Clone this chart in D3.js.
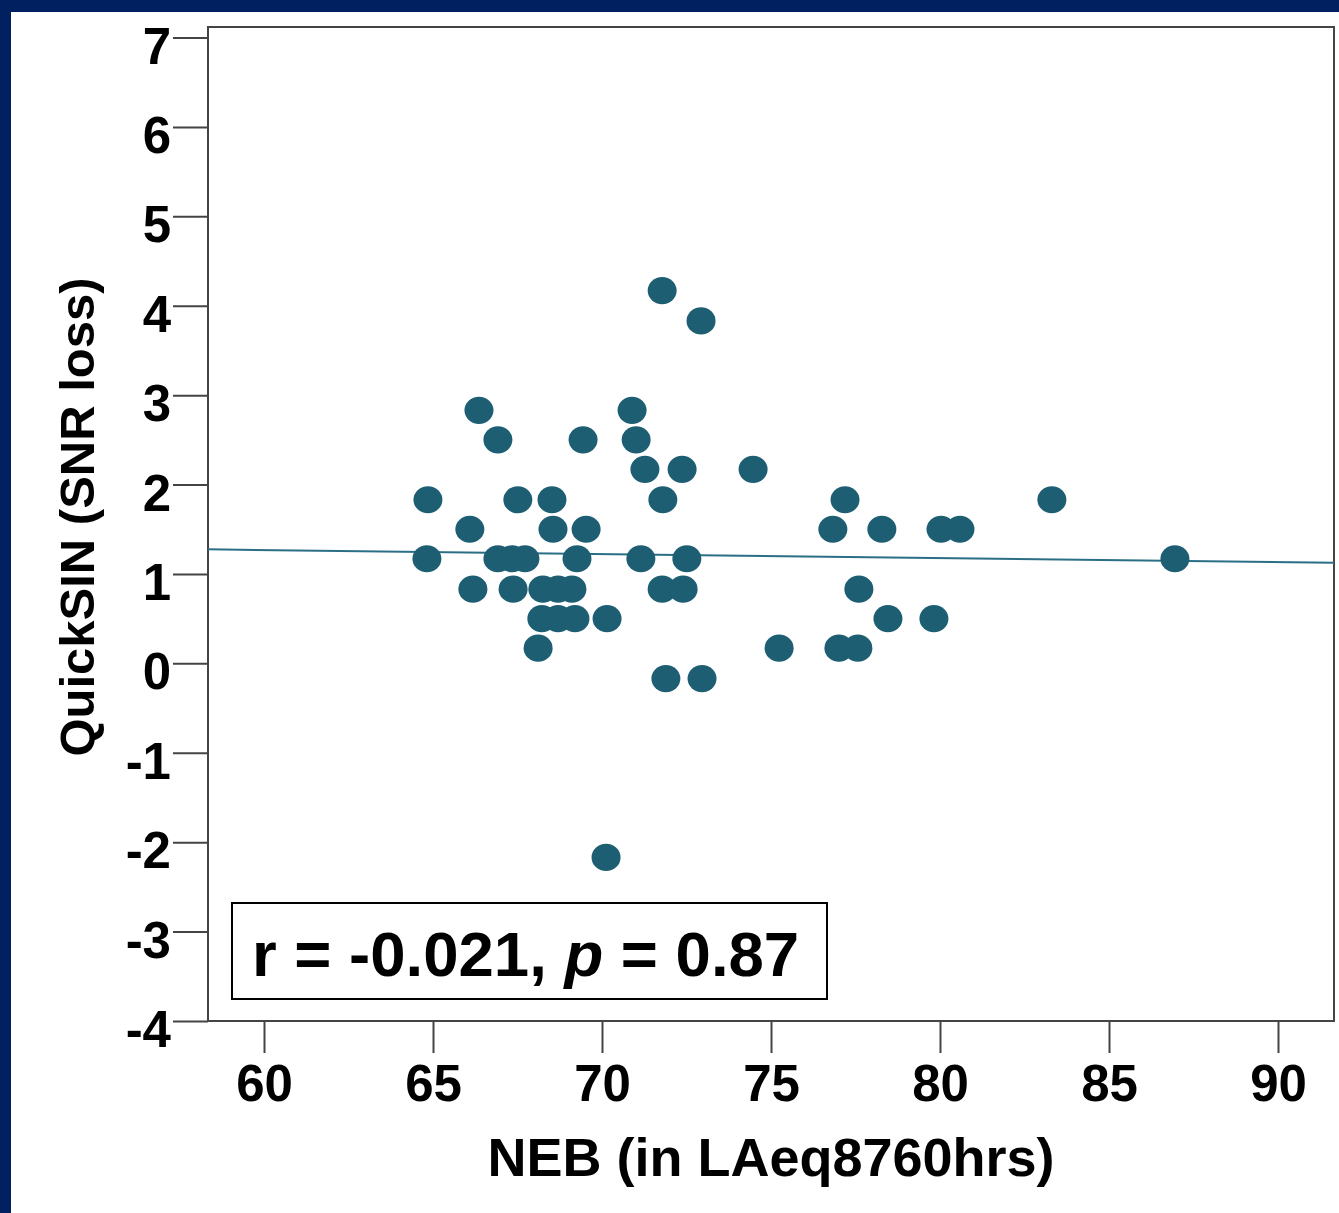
<!DOCTYPE html>
<html>
<head>
<meta charset="utf-8">
<script src="https://cdn.jsdelivr.net/npm/d3@7"></script>
<style>
  body { margin: 0; background: #fff; }
  svg { display: block; font-family: "Liberation Sans", Arial, sans-serif; }
</style>
</head>
<body>
<script>
// NEB (LAeq8760hrs) vs QuickSIN (SNR loss)
var nebValues = [
  71.78,
  72.93,
  66.36, 70.89,
  66.92, 69.44, 71.01,
  71.27, 72.37, 74.47,
  64.85, 67.51, 68.52, 71.80, 77.19, 83.31,
  66.09, 68.55, 69.53, 76.83, 78.28, 80.03, 80.59,
  64.82, 66.92, 67.34, 67.72, 69.26, 71.15, 72.51, 86.95,
  66.18, 67.37, 68.25, 68.70, 69.11, 71.78, 72.40, 77.60,
  68.22, 68.70, 69.20, 70.15, 78.46, 79.82,
  68.11, 75.24, 77.01, 77.57,
  71.89, 72.96,
  70.12
];
var quickSinValues = [
  4.17,
  3.83,
  2.83, 2.83,
  2.5, 2.5, 2.5,
  2.17, 2.17, 2.17,
  1.83, 1.83, 1.83, 1.83, 1.83, 1.83,
  1.5, 1.5, 1.5, 1.5, 1.5, 1.5, 1.5,
  1.17, 1.17, 1.17, 1.17, 1.17, 1.17, 1.17, 1.17,
  0.83, 0.83, 0.83, 0.83, 0.83, 0.83, 0.83, 0.83,
  0.5, 0.5, 0.5, 0.5, 0.5, 0.5,
  0.17, 0.17, 0.17, 0.17,
  -0.17, -0.17,
  -2.17
];
var xTicks = [60, 65, 70, 75, 80, 85, 90];
var yTicks = [-4, -3, -2, -1, 0, 1, 2, 3, 4, 5, 6, 7];
// fit line (ends at frame edges)
var fitX = [58.34, 91.66];
var fitY = [1.275, 1.126];

var width = 1339, height = 1213;
var plotLeft = 208, plotRight = 1334, plotTop = 27, plotBottom = 1021;
var dotColor = "#1d5e73";
var axisColor = "#444";

var svg = d3.select("body").append("svg")
  .attr("width", width)
  .attr("height", height);

// navy border strips
svg.append("rect").attr("x", 0).attr("y", 0).attr("width", width).attr("height", 12).attr("fill", "#002060");
svg.append("rect").attr("x", 0).attr("y", 0).attr("width", 11).attr("height", height).attr("fill", "#002060");

var x = d3.scaleLinear().domain([60, 90]).range([264, 1278]);
var y = d3.scaleLinear().domain([-4, 7]).range([1021, 37.5]);

// frame
svg.append("rect")
  .attr("x", plotLeft).attr("y", plotTop)
  .attr("width", plotRight - plotLeft).attr("height", plotBottom - plotTop)
  .attr("fill", "none")
  .attr("stroke", axisColor)
  .attr("stroke-width", 2);

var yAxis = svg.append("g")
  .attr("transform", "translate(" + plotLeft + ",0)")
  .call(d3.axisLeft(y).tickValues(yTicks).tickSize(35).tickPadding(2)
    .tickFormat(function(d) { return String(d); }));
yAxis.select(".domain").remove();
yAxis.selectAll("line").attr("stroke", axisColor).attr("stroke-width", 2);
yAxis.selectAll("text")
  .attr("dy", "0.5em")
  .attr("font-size", 51)
  .attr("font-weight", "bold")
  .attr("fill", "#000")
  .attr("font-family", "Liberation Sans, Arial, sans-serif");

var xAxis = svg.append("g")
  .attr("transform", "translate(0," + plotBottom + ")")
  .call(d3.axisBottom(x).tickValues(xTicks).tickSize(32).tickPadding(12));
xAxis.select(".domain").remove();
xAxis.selectAll("line").attr("stroke", axisColor).attr("stroke-width", 2);
xAxis.selectAll("text")
  .attr("font-size", 51)
  .attr("font-weight", "bold")
  .attr("fill", "#000")
  .attr("font-family", "Liberation Sans, Arial, sans-serif");

// fit line
svg.append("line")
  .attr("x1", x(fitX[0])).attr("y1", y(fitY[0]))
  .attr("x2", x(fitX[1])).attr("y2", y(fitY[1]))
  .attr("stroke", "#2b6f86")
  .attr("stroke-width", 2);

// points
svg.selectAll(".dot")
  .data(nebValues)
  .enter().append("ellipse")
  .attr("class", "dot")
  .attr("cx", function(d) { return x(d); })
  .attr("cy", function(d, i) { return y(quickSinValues[i]); })
  .attr("rx", 14.5)
  .attr("ry", 13.6)
  .attr("fill", dotColor);

// annotation box
svg.append("rect")
  .attr("x", 232).attr("y", 903)
  .attr("width", 595).attr("height", 96)
  .attr("fill", "#fff")
  .attr("stroke", "#000")
  .attr("stroke-width", 2);

var note = svg.append("text")
  .attr("x", 252).attr("y", 976)
  .attr("font-size", 63.5)
  .attr("font-weight", "bold")
  .attr("fill", "#000");
note.append("tspan").text("r = -0.021, ");
note.append("tspan").attr("font-style", "italic").text("p");
note.append("tspan").text(" = 0.87");

// axis titles
svg.append("text")
  .attr("x", 771).attr("y", 1176)
  .attr("text-anchor", "middle")
  .attr("font-size", 54)
  .attr("font-weight", "bold")
  .text("NEB (in LAeq8760hrs)");

svg.append("text")
  .attr("transform", "translate(94,517) rotate(-90)")
  .attr("text-anchor", "middle")
  .attr("font-size", 49)
  .attr("font-weight", "bold")
  .text("QuickSIN (SNR loss)");
</script>
</body>
</html>
